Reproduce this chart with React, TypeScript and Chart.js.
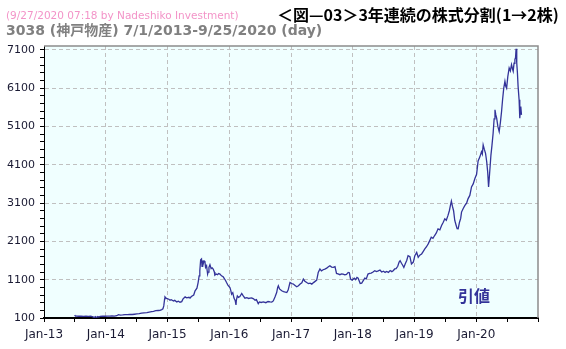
import React, { useEffect, useRef } from "react";
import { Chart, registerables } from "chart.js";

Chart.register(...registerables);

// ---- data ----
const dates: string[] = [
  "2013-07-01","2013-07-03","2013-07-12","2013-07-26","2013-08-09","2013-08-23","2013-09-06","2013-09-20",
  "2013-10-04","2013-10-18","2013-10-25","2013-10-31","2013-11-08","2013-11-15","2013-11-22","2013-11-29",
  "2013-12-13","2013-12-27","2014-01-10","2014-01-24","2014-02-07","2014-02-21","2014-03-07","2014-03-17",
  "2014-03-28","2014-04-11","2014-04-25","2014-05-09","2014-05-23","2014-06-06","2014-06-20","2014-07-04",
  "2014-07-18","2014-08-01","2014-08-15","2014-09-01","2014-09-15","2014-09-29","2014-10-10","2014-10-24",
  "2014-11-07","2014-11-18","2014-11-28","2014-12-05","2014-12-10","2014-12-15","2014-12-17","2014-12-26",
  "2015-01-09","2015-01-16","2015-01-23","2015-02-06","2015-02-13","2015-02-25","2015-03-06","2015-03-16",
  "2015-03-26","2015-04-03","2015-04-15","2015-04-24","2015-05-08","2015-05-14","2015-05-22","2015-06-05",
  "2015-06-13","2015-06-24","2015-07-01","2015-07-07","2015-07-11","2015-07-16","2015-07-21","2015-07-24",
  "2015-07-28","2015-07-31","2015-08-05","2015-08-10","2015-08-14","2015-08-20","2015-08-26","2015-08-29",
  "2015-09-03","2015-09-09","2015-09-16","2015-09-22","2015-09-28","2015-10-05","2015-10-08","2015-10-16",
  "2015-10-23","2015-10-30","2015-11-07","2015-11-16","2015-11-26","2015-12-04","2015-12-10","2015-12-16",
  "2015-12-24","2016-01-05","2016-01-10","2016-01-15","2016-01-22","2016-01-29","2016-02-05","2016-02-10",
  "2016-02-12","2016-02-18","2016-02-25","2016-03-04","2016-03-15","2016-03-22","2016-04-03","2016-04-14",
  "2016-04-25","2016-05-03","2016-05-13","2016-05-24","2016-06-02","2016-06-10","2016-06-21","2016-06-28",
  "2016-07-08","2016-07-21","2016-08-05","2016-08-18","2016-08-30","2016-09-09","2016-09-18","2016-09-28",
  "2016-10-08","2016-10-14","2016-10-18","2016-10-25","2016-11-07","2016-11-18","2016-12-07","2016-12-15",
  "2016-12-26","2017-01-06","2017-01-15","2017-01-25","2017-02-04","2017-02-14","2017-02-24","2017-03-06",
  "2017-03-15","2017-03-24","2017-04-04","2017-04-14","2017-04-24","2017-05-04","2017-05-16","2017-06-02",
  "2017-06-11","2017-06-21","2017-06-30","2017-07-10","2017-07-20","2017-07-31","2017-08-10","2017-08-19",
  "2017-08-29","2017-09-08","2017-09-18","2017-09-27","2017-10-06","2017-10-17","2017-10-27","2017-11-05",
  "2017-11-15","2017-11-25","2017-12-05","2017-12-12","2017-12-19","2017-12-28","2018-01-10","2018-01-18",
  "2018-01-26","2018-02-02","2018-02-09","2018-02-14","2018-02-23","2018-03-05","2018-03-13","2018-03-22",
  "2018-04-01","2018-04-10","2018-04-20","2018-05-01","2018-05-11","2018-05-21","2018-06-01","2018-06-11",
  "2018-06-21","2018-07-02","2018-07-11","2018-07-20","2018-07-31","2018-08-10","2018-08-20","2018-08-28",
  "2018-09-06","2018-09-14","2018-09-24","2018-10-02","2018-10-08","2018-10-16","2018-10-24","2018-10-30",
  "2018-11-08","2018-11-16","2018-11-24","2018-12-05","2018-12-14","2018-12-25","2019-01-03","2019-01-14",
  "2019-01-23","2019-02-01","2019-02-12","2019-02-22","2019-03-03","2019-03-13","2019-03-23","2019-04-01",
  "2019-04-10","2019-04-20","2019-04-30","2019-05-10","2019-05-20","2019-05-31","2019-06-10","2019-06-20",
  "2019-06-29","2019-07-08","2019-07-18","2019-07-26","2019-08-02","2019-08-07","2019-08-13","2019-08-20",
  "2019-08-27","2019-09-04","2019-09-10","2019-09-16","2019-09-24","2019-10-01","2019-10-06","2019-10-16",
  "2019-10-26","2019-11-05","2019-11-14","2019-11-24","2019-12-04","2019-12-14","2019-12-24","2020-01-03",
  "2020-01-12","2020-01-22","2020-02-01","2020-02-06","2020-02-11","2020-02-18","2020-02-25","2020-03-03",
  "2020-03-09","2020-03-14","2020-03-19","2020-03-28","2020-04-03","2020-04-10","2020-04-16","2020-04-21",
  "2020-04-26","2020-05-01","2020-05-08","2020-05-16","2020-05-23","2020-05-30","2020-06-05","2020-06-12",
  "2020-06-19","2020-06-24","2020-06-29","2020-07-06","2020-07-14","2020-07-21","2020-07-28","2020-08-03",
  "2020-08-07","2020-08-12","2020-08-17","2020-08-21","2020-08-24","2020-08-28","2020-09-01","2020-09-05",
  "2020-09-11","2020-09-15","2020-09-18","2020-09-21","2020-09-25"
];

const closes: number[] = [
  175,165,150,146,150,145,148,144,
  146,130,108,135,112,138,125,145,
  148,146,150,147,152,150,160,187,
  175,180,190,186,197,192,198,205,
  212,225,235,240,252,265,275,290,
  296,300,320,340,415,600,650,610,
  590,565,580,545,560,520,540,512,
  528,600,650,625,640,617,660,700,
  810,880,1025,1200,1334,1620,1640,1450,
  1600,1510,1590,1578,1420,1465,1247,1300,
  1420,1490,1390,1410,1378,1300,1220,1250,
  1230,1260,1247,1200,1176,1120,1080,1025,
  960,895,820,720,760,620,560,440,
  560,678,640,660,740,690,617,630,
  610,617,625,600,565,580,475,520,
  505,520,500,530,520,515,546,650,
  764,900,940,860,810,790,764,830,
  1025,1000,985,950,914,940,985,1020,
  1115,1060,1025,1000,1010,985,1030,1090,
  1290,1378,1330,1360,1378,1400,1440,1465,
  1430,1420,1440,1263,1250,1230,1250,1247,
  1225,1240,1290,1280,1115,1090,1140,1100,
  1160,1140,1060,1000,1010,1080,1140,1120,
  1247,1265,1270,1300,1334,1310,1330,1353,
  1300,1320,1290,1316,1290,1340,1310,1334,
  1380,1386,1450,1560,1596,1530,1470,1420,
  1520,1600,1727,1700,1510,1560,1727,1814,
  1683,1740,1772,1840,1903,1960,2035,2120,
  2208,2180,2253,2320,2428,2400,2515,2600,
  2690,2650,2778,2900,3050,3150,3020,2900,
  2646,2520,2430,2428,2600,2700,2865,2960,
  3040,3100,3216,3300,3520,3600,3741,3850,
  4200,4300,4440,4380,4615,4500,4400,4178,
  3900,3520,3800,4353,4600,4922,5300,5534,
  5400,5316,5100,4965,5200,5490,5796,6100,
  6277,6150,6100,6400,6628,6550,6715,6600,
  6540,6750,6846,6900,7127,6759,6500,6146,
  5796,5316,5500,5621,5403
];

const xTickYears: number[] = [2013, 2014, 2015, 2016, 2017, 2018, 2019, 2020];
const xTickLabels: string[] = ["Jan-13", "Jan-14", "Jan-15", "Jan-16", "Jan-17", "Jan-18", "Jan-19", "Jan-20"];
const yTickValues: number[] = [100, 1100, 2100, 3100, 4100, 5100, 6100, 7100];
const yTickLabels: string[] = ["100", "1100", "2100", "3100", "4100", "5100", "6100", "7100"];
const xMin = 2013;
const xMax = 2021;
const yMin = 100;
const yMax = 7200;

const seriesName = "引値";
const stampText = "(9/27/2020 07:18 by Nadeshiko Investment)";
const titleText = "＜図—03＞3年連続の株式分割(1→2株)";
const subtitleText = "3038 (神戸物産) 7/1/2013-9/25/2020 (day)";

function toYearFraction(d: string): number {
  const [y, m, dd] = d.split("-").map(Number);
  const t = Date.UTC(y, m - 1, dd);
  const s = Date.UTC(y, 0, 1);
  const e = Date.UTC(y + 1, 0, 1);
  return y + (t - s) / (e - s);
}

const TRANSPARENT = "rgba(0,0,0,0)";
const GRID = "#c0c0c0";
const TICK_TEXT = "#1a1a33";

export default function App() {
  const ref = useRef<HTMLCanvasElement>(null);

  useEffect(() => {
    const canvas = ref.current;
    if (!canvas) return;
    const points = dates.map((d, i) => ({ x: toYearFraction(d), y: closes[i] }));

    const plotFrame = {
      id: "plotFrame",
      beforeDraw(chart: any) {
        const { ctx, chartArea: a } = chart;
        ctx.save();
        ctx.fillStyle = "#f0ffff";
        ctx.fillRect(a.left, a.top, a.right - a.left, a.bottom - a.top);
        ctx.restore();
      },
      afterDraw(chart: any) {
        const { ctx, chartArea: a } = chart;
        ctx.save();
        ctx.strokeStyle = "#8c8c8c";
        ctx.lineWidth = 1.5;
        ctx.beginPath();
        ctx.moveTo(a.left, a.top);
        ctx.lineTo(a.right, a.top);
        ctx.lineTo(a.right, a.bottom);
        ctx.stroke();
        ctx.restore();
      },
    };

    const chart = new Chart(canvas, {
      type: "line",
      data: {
        datasets: [
          {
            label: seriesName,
            data: points,
            borderColor: "#333399",
            borderWidth: 1.3,
            pointRadius: 0,
            fill: false,
            tension: 0,
          },
        ],
      },
      options: {
        animation: false,
        responsive: false,
        events: [],
        layout: { padding: { top: 46, right: 28, left: 0, bottom: 0 } },
        plugins: {
          legend: { display: false },
          tooltip: { enabled: false },
          title: { display: false },
        },
        scales: {
          x: {
            type: "linear",
            min: xMin,
            max: xMax,
            afterFit(s: any) {
              s.height = 31;
            },
            ticks: {
              stepSize: 0.5,
              autoSkip: false,
              maxRotation: 0,
              padding: 6,
              color: TICK_TEXT,
              font: { family: "'DejaVu Sans', Verdana, sans-serif", size: 12 },
              callback(v: any) {
                const idx = xTickYears.indexOf(Number(v));
                return idx >= 0 ? xTickLabels[idx] : "";
              },
            },
            grid: {
              color(c: any) {
                const v = c.tick ? c.tick.value : NaN;
                return Number.isInteger(v) && v > xMin && v < xMax ? GRID : TRANSPARENT;
              },
              tickColor: "#000",
              tickLength: 4,
              tickWidth: 1,
              lineWidth: 1,
              tickBorderDash: [],
            },
            border: { color: "#000", width: 2, dash: [4, 3] },
          },
          y: {
            type: "linear",
            min: yMin,
            max: yMax,
            afterFit(s: any) {
              s.width = 44;
            },
            ticks: {
              stepSize: 100,
              autoSkip: false,
              padding: 5,
              color: TICK_TEXT,
              font: { family: "'DejaVu Sans', Verdana, sans-serif", size: 11 },
              callback(v: any) {
                const idx = yTickValues.indexOf(Number(v));
                return idx >= 0 ? yTickLabels[idx] : "";
              },
            },
            grid: {
              color(c: any) {
                const v = c.tick ? c.tick.value : NaN;
                return yTickValues.indexOf(v) > 0 ? GRID : TRANSPARENT;
              },
              tickColor(c: any) {
                const v = c.tick ? c.tick.value : NaN;
                return (v - yMin) % 200 === 0 ? "#000" : TRANSPARENT;
              },
              tickLength: 4,
              tickWidth: 1,
              lineWidth: 1,
              tickBorderDash: [],
            },
            border: { color: "#000", width: 1, dash: [4, 3] },
          },
        },
      },
      plugins: [plotFrame],
    } as any);

    return () => chart.destroy();
  }, []);

  const jp = "'DejaVu Sans', 'Noto Sans CJK JP', sans-serif";
  return (
    <div
      style={{
        position: "absolute",
        left: 0,
        top: 0,
        width: 566,
        height: 349,
        background: "#ffffff",
        overflow: "hidden",
      }}
    >
      <canvas ref={ref} width={566} height={349} style={{ position: "absolute", left: 0, top: 0, width: 566, height: 349 }} />
      <div
        style={{
          position: "absolute",
          left: 6,
          top: 15,
          transform: "translateY(-50%)",
          fontFamily: "'DejaVu Sans', Verdana, sans-serif",
          fontSize: 10.5,
          color: "#f394c8",
          whiteSpace: "nowrap",
          lineHeight: 1,
        }}
      >
        {stampText}
      </div>
      <div
        style={{
          position: "absolute",
          left: 277,
          top: 14,
          transform: "translateY(-50%)",
          fontFamily: "'Noto Sans CJK JP', sans-serif",
          fontWeight: "bold",
          fontSize: 16,
          color: "#000",
          whiteSpace: "nowrap",
          lineHeight: 1,
        }}
      >
        {titleText}
      </div>
      <div
        style={{
          position: "absolute",
          left: 6,
          top: 30,
          transform: "translateY(-50%)",
          fontFamily: jp,
          fontWeight: "bold",
          fontSize: 14,
          color: "#808080",
          whiteSpace: "nowrap",
          lineHeight: 1,
        }}
      >
        {subtitleText}
      </div>
      <div
        style={{
          position: "absolute",
          left: 458,
          top: 295,
          transform: "translateY(-50%)",
          fontFamily: "'Noto Sans CJK JP', sans-serif",
          fontWeight: "bold",
          fontSize: 16,
          color: "#333399",
          whiteSpace: "nowrap",
          lineHeight: 1,
        }}
      >
        {seriesName}
      </div>
    </div>
  );
}
